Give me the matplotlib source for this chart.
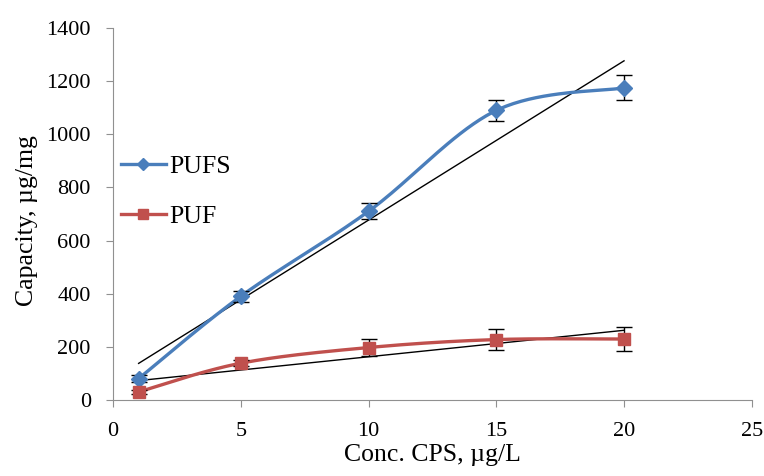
import matplotlib.pyplot as plt
import numpy as np

plt.rcParams['font.family'] = ['Liberation Serif', 'DejaVu Serif']

conc = [1, 5, 10, 15, 20]
pufs = [80, 390, 710, 1090, 1175]
pufs_err = [12, 20, 30, 40, 47]
puf = [30, 138, 197, 227, 229]
puf_err = [8, 12, 32, 38, 46]


def smooth(x, y, n=40):
    # excel-like smoothed line (catmull-rom bezier)
    x = np.asarray(x, float)
    y = np.asarray(y, float)
    px = np.concatenate([[x[0]], x, [x[-1]]])
    py = np.concatenate([[y[0]], y, [y[-1]]])
    xs, ys = [], []
    t = np.linspace(0, 1, n)
    for i in range(1, len(px) - 2):
        p0 = np.array([px[i], py[i]])
        p3 = np.array([px[i + 1], py[i + 1]])
        c1 = p0 + (np.array([px[i + 1], py[i + 1]]) - np.array([px[i - 1], py[i - 1]])) / 6
        c2 = p3 - (np.array([px[i + 2], py[i + 2]]) - np.array([px[i], py[i]])) / 6
        b = ((1 - t) ** 3)[:, None] * p0 + (3 * (1 - t) ** 2 * t)[:, None] * c1 \
            + (3 * (1 - t) * t ** 2)[:, None] * c2 + (t ** 3)[:, None] * p3
        xs.extend(b[:, 0])
        ys.extend(b[:, 1])
    return xs, ys


blue = '#4A7EBB'
red = '#C0504D'

fig = plt.figure(figsize=(7.64, 4.76), dpi=100)
ax = fig.add_axes([0.148, 0.160, 0.836, 0.781])

for data, err, col, mk, ms, lab in [(pufs, pufs_err, blue, 'D', 8, 'PUFS'),
                                     (puf, puf_err, red, 's', 9, 'PUF')]:
    sx, sy = smooth(conc, data)
    ax.plot(sx, sy, color=col, lw=2.4, zorder=3)
    ax.errorbar(conc, data, yerr=err, fmt='none', ecolor='black', elinewidth=1,
                capsize=6, capthick=1, zorder=4)
    ax.plot(conc, data, linestyle='none', marker=mk, ms=ms, color=col, zorder=5)
    ax.plot([], [], color=col, lw=2.4, marker=mk, ms=ms * 0.8, label=lab)
    k, b = np.polyfit(conc, data, 1)
    ax.plot([conc[0], conc[-1]], [k * conc[0] + b, k * conc[-1] + b],
            color='black', lw=1, zorder=2)

ax.set_xlim(0, 25)
ax.set_ylim(0, 1400)
ax.set_xticks(np.arange(0, 26, 5))
ax.set_yticks(np.arange(0, 1401, 200))
for s in ['top', 'right']:
    ax.spines[s].set_visible(False)
for s in ['left', 'bottom']:
    ax.spines[s].set_color('#909090')
ax.tick_params(direction='out', length=5, color='#909090', labelsize=16, pad=11)
ax.set_xlabel('Conc. CPS, µg/L', fontsize=18.5, labelpad=2)
ax.set_ylabel('Capacity, µg/mg', fontsize=18.5)
ax.yaxis.set_label_coords(-0.118, 0.483)

ax.legend(loc='center left', bbox_to_anchor=(0.012, 0.56), frameon=False,
          fontsize=18.5, handlelength=1.75, handletextpad=0.15, labelspacing=1.05,
          borderpad=0, borderaxespad=0)

fig.savefig('out.png', dpi=100)
